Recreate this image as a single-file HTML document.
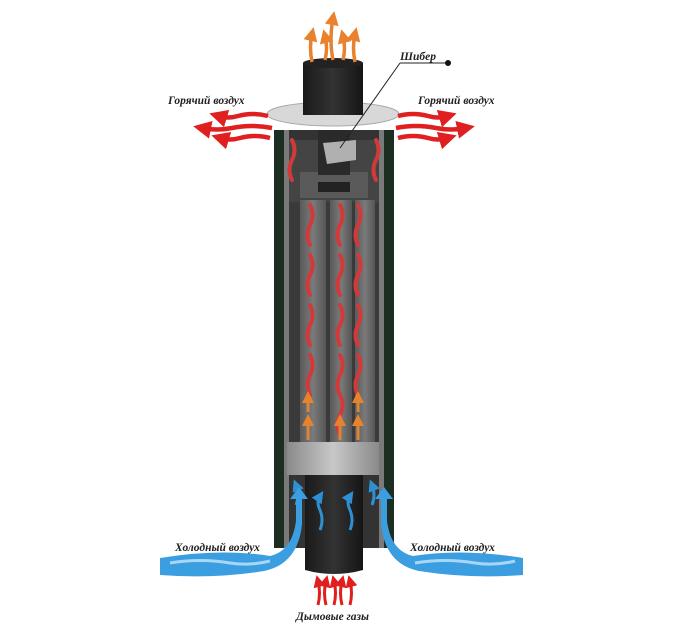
<!DOCTYPE html>
<html><head><meta charset="utf-8"><style>
html,body{margin:0;padding:0;background:#fff;}
svg{display:block}
text{font-family:"Liberation Serif",serif;font-weight:bold;font-style:italic;font-size:11.5px;fill:#222}
</style></head><body>
<svg width="700" height="643" viewBox="0 0 700 643" xmlns="http://www.w3.org/2000/svg">
<defs>
<linearGradient id="pipe" x1="0" x2="1"><stop offset="0" stop-color="#1a1a1a"/><stop offset=".5" stop-color="#333"/><stop offset="1" stop-color="#151515"/></linearGradient>
<linearGradient id="ring" x1="0" x2="1"><stop offset="0" stop-color="#8a8a8a"/><stop offset=".5" stop-color="#c8c8c8"/><stop offset="1" stop-color="#8a8a8a"/></linearGradient>
<linearGradient id="tube" x1="0" x2="1"><stop offset="0" stop-color="#5a5a5a"/><stop offset=".5" stop-color="#7a7a7a"/><stop offset="1" stop-color="#555"/></linearGradient>
<marker id="ar" markerWidth="4" markerHeight="4" refX="2" refY="2" orient="auto"><path d="M0,0 L4,2 L0,4z" fill="#e02020"/></marker>
<marker id="ao" markerWidth="4" markerHeight="4" refX="2" refY="2" orient="auto"><path d="M0,0 L4,2 L0,4z" fill="#e8822e"/></marker>
<marker id="ab" markerWidth="4" markerHeight="4" refX="2" refY="2" orient="auto"><path d="M0,0 L4,2 L0,4z" fill="#2f8fd3"/></marker>
</defs>
<!-- casing -->
<rect x="274" y="130" width="120" height="418" fill="#333"/>
<rect x="274" y="130" width="10" height="418" fill="#1c2e22"/>
<rect x="384" y="130" width="10" height="418" fill="#1c2e22"/>
<rect x="284" y="130" width="5" height="418" fill="#7a7a7a"/>
<rect x="379" y="130" width="5" height="418" fill="#7a7a7a"/>
<!-- top chamber -->
<rect x="289" y="140" width="90" height="62" fill="#444"/>
<rect x="300" y="172" width="68" height="26" fill="#5a5a5a"/>
<rect x="318" y="182" width="32" height="10" fill="#222"/>
<rect x="318" y="130" width="32" height="45" fill="#2a2a2a"/>
<polygon points="323,143 356,140 356,160 327,164" fill="#b0b0b0"/>
<!-- tubes -->
<rect x="289" y="202" width="90" height="240" fill="#3a3a3a"/>
<rect x="300" y="200" width="26" height="242" fill="url(#tube)"/>
<rect x="330" y="200" width="22" height="242" fill="url(#tube)"/>
<rect x="355" y="200" width="20" height="242" fill="url(#tube)"/>
<g fill="none" stroke="#d23a3a" stroke-width="4" stroke-linecap="round">
<path d="M310 205 q5 10 0 20 q-5 10 0 20"/><path d="M310 255 q5 10 0 20 q-5 10 0 20"/><path d="M310 305 q5 10 0 20 q-5 10 0 20"/><path d="M310 355 q5 10 0 20 q-5 10 0 20"/>
<path d="M340 205 q5 10 0 20 q-5 10 0 20"/><path d="M340 255 q5 10 0 20 q-5 10 0 20"/><path d="M340 305 q5 10 0 20 q-5 10 0 20"/><path d="M340 355 q5 10 0 20 q-5 10 0 20"/><path d="M340 395 q5 10 0 20 q-5 10 0 20"/>
<path d="M358 205 q5 10 0 20 q-5 10 0 20"/><path d="M358 255 q5 10 0 20 q-5 10 0 20"/><path d="M358 305 q5 10 0 20 q-5 10 0 20"/><path d="M358 355 q5 10 0 20 q-5 10 0 20"/>
<path d="M292 140 q5 10 0 20 q-5 10 0 20"/><path d="M376 140 q5 10 0 20 q-5 10 0 20"/>
</g>
<g fill="none" stroke="#d9853a" stroke-width="3" marker-end="url(#ao)"><path d="M308 440 v-20"/><path d="M340 440 v-20"/><path d="M358 440 v-20"/><path d="M308 412 v-15"/><path d="M358 412 v-15"/></g>
<!-- bottom ring -->
<rect x="287" y="442" width="92" height="33" fill="url(#ring)"/>
<!-- bottom pipe -->
<path d="M305 475 h58 v95 q-29 8 -58 0z" fill="url(#pipe)"/>
<g fill="none" stroke="#2f8fd3" stroke-width="3" marker-end="url(#ab)"><path d="M320 530 q4 -10 0 -20 q-4 -8 0 -14"/><path d="M350 530 q4 -10 0 -20 q-4 -8 0 -14"/><path d="M296 505 q4 -10 0 -20"/><path d="M372 505 q4 -10 0 -20"/></g>
<!-- top pipe + flange -->
<ellipse cx="333" cy="114" rx="66" ry="12" fill="#d8d8d8" stroke="#aaa"/>
<rect x="303" y="63" width="60" height="52" fill="url(#pipe)"/>
<ellipse cx="333" cy="63" rx="30" ry="5" fill="#222"/>
<!-- orange top arrows -->
<g fill="none" stroke="#e8822e" stroke-width="3.5" marker-end="url(#ao)"><path d="M312 62 q-3 -15 0 -28"/><path d="M325 60 q3 -12 0 -24"/><path d="M333 60 q-4 -20 0 -42"/><path d="M343 60 q3 -12 0 -24"/><path d="M355 62 q-3 -15 0 -28"/></g>
<!-- hot air red arrows -->
<g fill="none" stroke="#e02020" stroke-width="4.5" marker-end="url(#ar)"><path d="M268 116 q-15 -4 -30 0 q-10 3 -20 0"/><path d="M272 128 q-20 -4 -40 0 q-15 3 -30 0"/><path d="M270 138 q-15 -4 -30 0 q-10 3 -20 0"/><path d="M398 116 q15 -4 30 0 q10 3 20 0"/><path d="M396 128 q20 -4 40 0 q15 3 30 0"/><path d="M398 138 q15 -4 30 0 q10 3 20 0"/></g>
<!-- cold air -->
<path d="M160 558 q60 -10 110 -2 q22 -5 26 -35 l0 -22 l-6 0 l9 -12 l9 12 l-6 0 l0 25 q-4 40 -38 47 q-50 8 -104 4z" fill="#3a9ee0"/>
<path d="M523 558 q-60 -10 -110 -2 q-22 -5 -26 -35 l0 -22 l6 0 l-9 -12 l-9 12 l6 0 l0 25 q4 40 38 47 q50 8 104 4z" fill="#3a9ee0"/>
<g fill="none" stroke="#a8d6f5" stroke-width="3"><path d="M170 563 q30 -5 60 0 q20 3 40 -2"/><path d="M415 563 q30 -5 60 0 q20 3 40 -2"/></g>
<g fill="none" stroke="#e02020" stroke-width="3" marker-end="url(#ar)"><path d="M318 605 q3 -12 0 -24"/><path d="M326 605 q-3 -12 0 -24"/><path d="M334 605 q3 -12 0 -24"/><path d="M342 605 q-3 -12 0 -24"/><path d="M350 605 q3 -12 0 -24"/></g>
<!-- labels -->
<text x="168" y="104">Горячий воздух</text>
<text x="418" y="104">Горячий воздух</text>
<text x="400" y="60">Шибер</text>
<line x1="400" y1="63" x2="447" y2="63" stroke="#222"/><line x1="400" y1="63" x2="340" y2="148" stroke="#222"/>
<circle cx="448" cy="63" r="3" fill="#111"/>
<text x="175" y="551">Холодный воздух</text>
<text x="410" y="551">Холодный воздух</text>
<text x="296" y="620">Дымовые газы</text>
</svg>
</body></html>
